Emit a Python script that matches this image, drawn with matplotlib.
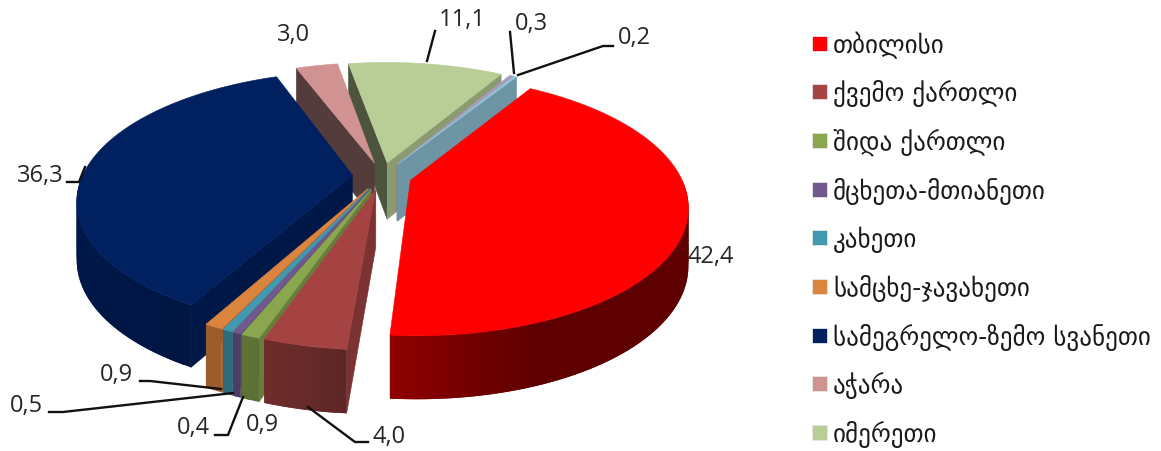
import numpy as np
import matplotlib
matplotlib.use('Agg')
from matplotlib import pyplot as plt
from matplotlib.colors import to_rgb
from matplotlib.patches import Rectangle

# slices, clockwise from the red one (the last two have no legend row in the picture)
regions = ['თბილისი', 'ქვემო ქართლი', 'შიდა ქართლი', 'მცხეთა-მთიანეთი', 'კახეთი',
           'სამცხე-ჯავახეთი', 'სამეგრელო-ზემო სვანეთი', 'აჭარა', 'იმერეთი']
values = [42.4, 4.0, 0.9, 0.4, 0.5, 0.9, 36.3, 3.0, 11.1, 0.3, 0.2]
colors = ['#ff0000', '#a54342', '#8aa64f', '#71588f', '#4198af', '#db843d',
          '#002060', '#d09392', '#b9cd96', '#a99bbd', '#92c6d9']

# label anchor (center) and leader line for each slice
label_pos = [(711, 257), (389, 437), (262, 425), (193, 428), (26, 406), (116, 375),
             (40, 176), (294, 35), (462, 20), (531, 24), (634, 38)]
leaders = [None,
           [(368, 443), (355, 443), (308, 408)],
           None,
           [(215, 436), (228, 436), (243, 398)],
           [(49, 413), (63, 413), (233, 394)],
           [(140, 382), (150, 382), (221, 390)],
           [(67, 183), (79, 183), (85, 168)],
           None,
           [(435, 32), (427, 62)],
           [(510, 33), (514, 74)],
           [(613, 47), (603, 47), (518, 76)]]

# projection of the tilted pie onto the picture
CX, CY = 382, 177
RX, RY = 270, 124
PERSP = 0.19
DEPTH = 57
EXPLODE = 0.11
START = 58


def project(x, y, drop=0.0):
    w = 1 + PERSP * y
    return CX + RX * x / w, CY - RY * y / w + drop * DEPTH / np.sqrt(w)


def shade(color, f):
    return tuple(c * f for c in to_rgb(color))


def rim_factor(deg):
    c = np.cos(np.radians(deg))
    return np.interp(c, [-1, -0.4, -0.2, -0.05, 0.35], [0.75, 0.7, 0.62, 0.55, 0.37])


def poly(ax, pts, color, lw=0.4):
    xs, ys = zip(*pts)
    ax.fill(xs, ys, facecolor=color, edgecolor=color, linewidth=lw)


def wall_shows(apex, end, other):
    # the wall hangs straight down from apex-end; it shows only if "down"
    # points away from the side of the edge the top face lies on
    ex, ey = end[0] - apex[0], end[1] - apex[1]
    ox, oy = other[0] - apex[0], other[1] - apex[1]
    return np.sign(ex) != np.sign(ex * oy - ey * ox)


def draw_slice(ax, a1, a2, color):
    mid = np.radians((a1 + a2) / 2)
    ox, oy = EXPLODE * np.cos(mid), EXPLODE * np.sin(mid)
    n = max(int((a1 - a2) / 1.5), 2)
    angles = np.linspace(a1, a2, n + 1)
    rim = [(ox + np.cos(np.radians(a)), oy + np.sin(np.radians(a))) for a in angles]
    apex = project(ox, oy)
    top = [project(x, y) for x, y in rim]

    # the two cut walls
    for (x, y), end, other, a, is_start in [(rim[0], top[0], top[-1], a1, True),
                                            (rim[-1], top[-1], top[0], a2, False)]:
        if wall_shows(apex, end, other):
            f = 0.41 if is_start and np.sin(np.radians(a)) > 0 else 0.75
            poly(ax, [apex, end, project(x, y, 1), project(ox, oy, 1)], shade(color, f))

    # outer wall, only the part turned to the viewer; every strip reaches
    # over the next one so no seams show between them
    for i in range(n):
        am = (angles[i] + angles[i + 1]) / 2
        if np.sin(np.radians(am)) > 0.02:
            continue
        (x0, y0), (x1, y1) = rim[i], rim[min(i + 2, n)]
        poly(ax, [project(x0, y0), project(x1, y1), project(x1, y1, 1), project(x0, y0, 1)],
             shade(color, rim_factor(am)), lw=0)

    # top face
    poly(ax, [apex] + top, color)


fig = plt.figure(figsize=(11.61, 4.52), dpi=100)
ax = fig.add_axes([0, 0, 1, 1])
ax.set_xlim(0, 1161)
ax.set_ylim(452, 0)
ax.axis('off')

total = sum(values)
ends = START - 360 * np.cumsum(values) / total
starts = np.concatenate([[START], ends[:-1]])

# far slices first
order = sorted(range(len(values)), key=lambda i: -np.sin(np.radians((starts[i] + ends[i]) / 2)))
for i in order:
    draw_slice(ax, starts[i], ends[i], colors[i])

for i, v in enumerate(values):
    x, y = label_pos[i]
    ax.text(x, y, f'{v:.1f}'.replace('.', ','), ha='center', va='center',
            fontsize=17, family='Open Sans', color='#262626')
    if leaders[i]:
        xs, ys = zip(*leaders[i])
        ax.plot(xs, ys, color='#111111', lw=1.7, solid_joinstyle='round')

# legend
for i, name in enumerate(regions):
    y = 44 + i * 48.7
    ax.add_patch(Rectangle((812, y - 7.5), 15, 15, facecolor=colors[i], edgecolor='#e6e6e6', lw=0.6))
    ax.text(833, y + 1, name, ha='left', va='center', fontsize=18, family='DejaVu Sans', color='#1a1a1a')

fig.savefig('out.png', dpi=100)
